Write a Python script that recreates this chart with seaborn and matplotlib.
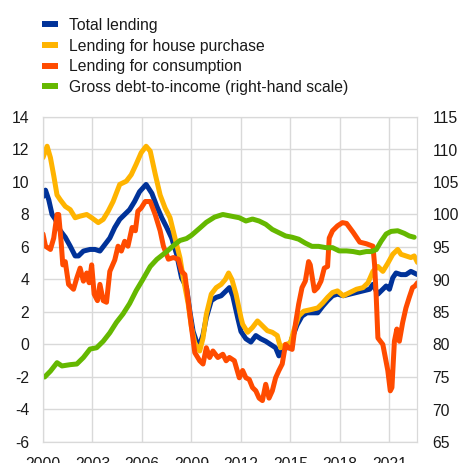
import numpy as np
import pandas as pd
import matplotlib
matplotlib.use("Agg")
import matplotlib.pyplot as plt
from matplotlib.lines import Line2D
import seaborn as sns

sns.set_style('white')
plt.rcParams['font.family'] = ['Liberation Sans', 'DejaVu Sans']
plt.rcParams['axes.unicode_minus'] = False

# data (annual % changes, left scale; ratio, right scale)
total_years = [2000.0, 2000.15, 2000.35, 2000.55, 2000.75, 2001.05, 2001.35, 2001.65, 2001.95, 2002.15,
               2002.45, 2002.85, 2003.15, 2003.45, 2003.75, 2004.05, 2004.35, 2004.65, 2004.95, 2005.25,
               2005.55, 2005.85, 2006.25, 2006.6, 2006.9, 2007.2, 2007.5, 2007.8, 2008.1, 2008.4,
               2008.7, 2008.9, 2009.1, 2009.3, 2009.5, 2009.7, 2009.9, 2010.2, 2010.5, 2010.8,
               2011.1, 2011.3, 2011.5, 2011.8, 2012.0, 2012.3, 2012.6, 2012.9, 2013.2, 2013.5,
               2013.8, 2014.1, 2014.3, 2014.6, 2014.9, 2015.1, 2015.4, 2015.7, 2016.0, 2016.35,
               2016.65, 2016.95, 2017.25, 2017.55, 2017.85, 2018.2, 2018.6, 2019.0, 2019.4, 2019.8,
               2020.0, 2020.3, 2020.6, 2020.8, 2021.0, 2021.2, 2021.4, 2021.7, 2022.0, 2022.3,
               2022.5, 2022.7]
total_vals = [9.1, 9.5, 8.9, 8.0, 7.7, 7.0, 6.6, 6.05, 5.45, 5.45,
              5.75, 5.85, 5.85, 5.75, 6.15, 6.55, 7.2, 7.7, 8.0, 8.3,
              8.8, 9.4, 9.85, 9.3, 8.5, 7.8, 7.2, 6.55, 5.55, 4.1,
              3.5, 2.05, 0.8, 0.2, 0.0, 0.6, 1.65, 2.7, 2.9, 3.0,
              3.3, 3.5, 3.0, 1.65, 0.8, 0.35, 0.15, 0.55, 0.35, 0.2,
              0.0, -0.2, -0.7, -0.2, -0.2, 0.4, 1.2, 1.75, 1.95, 1.95,
              1.95, 2.35, 2.7, 3.0, 3.1, 3.0, 3.1, 3.2, 3.3, 3.4,
              3.7, 3.1, 3.4, 3.6, 3.4, 4.1, 4.4, 4.3, 4.3, 4.5,
              4.4, 4.3]

house_years = [2000.0, 2000.25, 2000.45, 2000.65, 2000.85, 2001.05, 2001.35, 2001.65, 2001.95, 2002.25,
               2002.65, 2002.95, 2003.35, 2003.65, 2003.95, 2004.25, 2004.65, 2005.05, 2005.35, 2005.65,
               2005.95, 2006.25, 2006.5, 2006.8, 2007.1, 2007.4, 2007.7, 2008.0, 2008.3, 2008.5,
               2008.8, 2009.0, 2009.2, 2009.5, 2009.7, 2009.9, 2010.2, 2010.5, 2010.8, 2011.05,
               2011.25, 2011.45, 2011.7, 2012.0, 2012.1, 2012.4, 2012.7, 2013.0, 2013.3, 2013.6,
               2013.9, 2014.2, 2014.4, 2014.7, 2015.0, 2015.2, 2015.5, 2015.8, 2016.25, 2016.65,
               2016.95, 2017.25, 2017.55, 2017.85, 2018.2, 2018.6, 2019.0, 2019.4, 2019.7, 2020.0,
               2020.3, 2020.6, 2020.9, 2021.2, 2021.5, 2021.7, 2022.0, 2022.3, 2022.5, 2022.7]
house_vals = [11.5, 12.2, 11.5, 10.4, 9.2, 8.9, 8.5, 8.3, 7.8, 7.9,
              8.0, 7.8, 7.5, 7.7, 8.2, 8.8, 9.85, 10.05, 10.45, 11.1,
              11.8, 12.2, 11.9, 10.5, 9.2, 8.4, 7.8, 6.55, 5.35, 4.1,
              2.5, 1.05, 0.1, -0.4, 0.4, 1.85, 3.1, 3.5, 3.7, 4.0,
              4.4, 4.0, 3.1, 1.65, 1.25, 0.75, 1.05, 1.45, 1.15, 0.85,
              0.75, 0.55, -0.2, 0.0, 0.1, 0.85, 1.75, 2.05, 2.15, 2.25,
              2.55, 2.9, 3.2, 3.3, 3.0, 3.2, 3.4, 3.5, 3.8, 4.5,
              4.8, 4.5, 5.0, 5.55, 5.85, 5.55, 5.45, 5.35, 5.45, 5.05]

cons_years = [2000.0, 2000.15, 2000.45, 2000.65, 2000.85, 2000.95, 2001.1, 2001.2, 2001.35, 2001.55,
              2001.85, 2002.05, 2002.25, 2002.45, 2002.65, 2002.8, 2002.95, 2003.1, 2003.3, 2003.45,
              2003.65, 2003.85, 2004.05, 2004.35, 2004.55, 2004.75, 2004.95, 2005.15, 2005.4, 2005.6,
              2005.75, 2005.95, 2006.2, 2006.5, 2006.8, 2007.1, 2007.3, 2007.6, 2007.9, 2008.2,
              2008.4, 2008.6, 2008.8, 2009.0, 2009.2, 2009.5, 2009.7, 2009.9, 2010.1, 2010.3,
              2010.6, 2010.9, 2011.1, 2011.3, 2011.6, 2011.9, 2012.1, 2012.3, 2012.5, 2012.7,
              2012.9, 2013.1, 2013.3, 2013.5, 2013.7, 2013.9, 2014.1, 2014.3, 2014.5, 2014.7,
              2014.9, 2015.1, 2015.3, 2015.5, 2015.7, 2015.9, 2016.1, 2016.2, 2016.45, 2016.65,
              2016.85, 2017.05, 2017.25, 2017.35, 2017.55, 2017.85, 2018.15, 2018.4, 2018.8, 2019.2,
              2019.6, 2020.0, 2020.1, 2020.2, 2020.3, 2020.6, 2020.9, 2021.05, 2021.15, 2021.3,
              2021.45, 2021.6, 2021.8, 2022.0, 2022.2, 2022.4, 2022.55, 2022.7]
cons_vals = [6.8, 6.05, 5.85, 6.55, 8.0, 8.0, 6.3, 4.9, 5.1, 3.7,
             3.4, 4.1, 4.7, 3.9, 4.4, 3.8, 4.9, 3.1, 2.7, 3.7,
             2.7, 2.6, 4.5, 5.2, 6.05, 5.75, 6.35, 6.05, 7.2, 7.0,
             8.2, 8.4, 8.8, 8.8, 8.0, 7.0, 6.05, 5.25, 5.35, 5.25,
             4.5, 4.3, 2.7, 1.05, -0.5, -1.0, -1.2, -0.2, -0.8, -0.4,
             -0.8, -0.6, -1.0, -0.8, -1.0, -2.05, -1.6, -2.05, -2.15, -2.65,
             -2.85, -3.3, -3.45, -2.45, -3.3, -2.85, -2.05, -1.6, -1.2, 0.0,
             -0.2, -0.3, 1.25, 2.5, 3.5, 3.9, 5.1, 4.9, 3.3, 3.5,
             3.9, 4.7, 4.8, 6.55, 7.0, 7.3, 7.5, 7.45, 6.9, 6.3,
             6.2, 6.05, 4.9, 2.9, 0.4, 0.0, -1.6, -2.85, -2.65, 0.2,
             0.95, 0.2, 1.35, 2.25, 2.9, 3.5, 3.6, 3.8]

dti_years = [2000.1, 2000.45, 2000.85, 2001.15, 2001.65, 2002.05, 2002.45, 2002.85, 2003.25, 2003.65,
             2004.05, 2004.45, 2004.85, 2005.25, 2005.65, 2006.05, 2006.5, 2006.9, 2007.5, 2007.9,
             2008.3, 2008.7, 2009.0, 2009.5, 2009.9, 2010.4, 2010.9, 2011.3, 2011.9, 2012.3,
             2012.7, 2013.1, 2013.5, 2013.9, 2014.3, 2014.7, 2015.1, 2015.5, 2015.9, 2016.3,
             2016.7, 2017.15, 2017.55, 2017.95, 2018.4, 2018.8, 2019.2, 2019.6, 2019.9, 2020.2,
             2020.5, 2020.8, 2021.1, 2021.5, 2021.9, 2022.2, 2022.5]
dti_vals = [75.0, 75.9, 77.2, 76.7, 76.9, 77.0, 78.0, 79.3, 79.5, 80.5,
            81.8, 83.4, 84.7, 86.3, 88.3, 90.0, 92.0, 93.1, 94.3, 95.2,
            96.0, 96.3, 96.8, 97.9, 98.8, 99.6, 100.0, 99.8, 99.5, 99.0,
            99.3, 99.0, 98.5, 97.7, 97.2, 96.7, 96.5, 96.2, 95.6, 95.1,
            95.1, 94.9, 94.9, 94.4, 94.4, 94.3, 94.1, 94.3, 94.3, 94.6,
            95.9, 97.0, 97.4, 97.5, 97.1, 96.7, 96.5]

labels = ['Total lending', 'Lending for house purchase', 'Lending for consumption',
          'Gross debt-to-income (right-hand scale)']
colors = ['#003299', '#FFB400', '#FF4B00', '#65B800']
x_ticks = [2000, 2003, 2006, 2009, 2012, 2015, 2018, 2021]

grid_col = '#d9d9d9'
txt_col = '#1a1a1a'
lw = 3.6
fs = 11.3

fig = plt.figure(figsize=(4.59, 4.63), dpi=100)
ax = fig.add_axes([43/459, 1 - 442/463, (417 - 43)/459, (442 - 117)/463])

sns.lineplot(x=total_years, y=total_vals, ax=ax, color=colors[0], linewidth=lw)
sns.lineplot(x=house_years, y=house_vals, ax=ax, color=colors[1], linewidth=lw)
sns.lineplot(x=cons_years, y=cons_vals, ax=ax, color=colors[2], linewidth=lw)

ax.set_xlim(2000, 2022.67)
ax.set_ylim(-6, 14)
ax.set_yticks(np.arange(-6, 15, 2))
ax.set_xticks(x_ticks)
ax.set_xticklabels([str(t) for t in x_ticks])
ax.grid(True, color=grid_col, linewidth=1)
ax.set_axisbelow(True)
ax.tick_params(length=0, labelsize=fs, colors=txt_col)
ax.tick_params(axis='y', pad=10)
ax.tick_params(axis='x', pad=11)
for s in ax.spines.values():
    s.set_color(grid_col)

ax2 = ax.twinx()
sns.lineplot(x=dti_years, y=dti_vals, ax=ax2, color=colors[3], linewidth=lw)
ax2.set_ylim(65, 115)
ax2.set_yticks(np.arange(65, 116, 5))
ax2.grid(False)
ax2.tick_params(length=0, labelsize=fs, colors=txt_col, pad=11)
for s in ax2.spines.values():
    s.set_color(grid_col)

ax.set_xlabel('')
ax.set_ylabel('')
ax2.set_ylabel('')

handles = [Line2D([0], [0], color=c, lw=4.3, solid_capstyle='butt') for c in colors]
fig.legend(handles, labels, loc='upper left', bbox_to_anchor=(0.078, 0.975),
           frameon=False, fontsize=fs, handlelength=1.0, handletextpad=0.7,
           labelspacing=0.36, borderaxespad=0, labelcolor=txt_col)

fig.savefig('out.png', dpi=100)
